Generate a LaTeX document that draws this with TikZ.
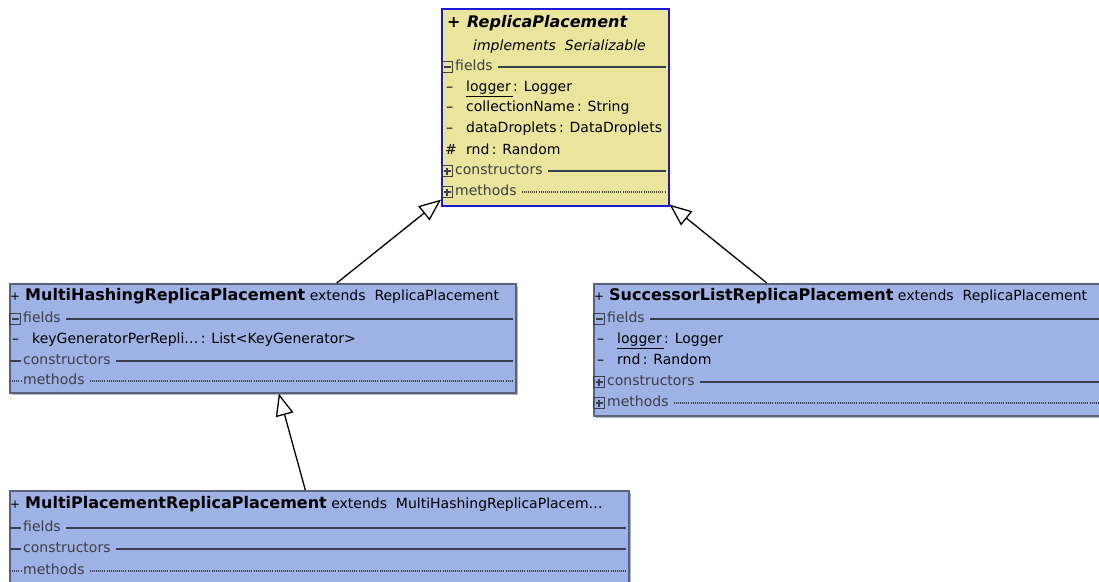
\documentclass[tikz,border=0pt]{standalone}
\usepackage{fontspec}
\setmainfont{DejaVu Sans}
\usetikzlibrary{arrows.meta, positioning, calc, shadows}

\definecolor{classyellow}{RGB}{233,229,157}
\definecolor{classblue}{RGB}{158,178,230}
\definecolor{frameblue}{RGB}{25,25,215}
\definecolor{frameslate}{RGB}{88,98,122}
\definecolor{secgray}{RGB}{62,62,70}
\definecolor{secline}{RGB}{58,62,78}

\newcommand{\membfont}{\fontsize{14}{16}\selectfont}
\newcommand{\clsfont}{\fontsize{16}{18}\selectfont\bfseries}
\newcommand{\vis}[1]{\makebox[15pt][l]{\fontsize{12}{14}\selectfont #1}}

% compartment row: icon, label, then a rule out to the right edge
\newcommand{\umlsec}[6]{%
  \node[seclabel] (#1) at ($(#2.north west)+(12,#3)$) {#5};
  \pic at ($(#1.west)+(-6,0)$) {#4};
  \draw[#6] ([xshift=3pt]#1.east) -- ($(#1.east -| #2.east)+(-4,0)$);
}

\begin{document}
\begin{tikzpicture}[x=1pt, y=-1pt,
    classbox/.style={rectangle, anchor=north west, inner sep=0pt},
    yellowclass/.style={classbox, fill=classyellow, draw=frameblue, line width=1.6pt},
    blueclass/.style={classbox, fill=classblue, draw=frameslate, line width=1.6pt,
      drop shadow={shadow xshift=2pt, shadow yshift=-2pt, fill=black!50, opacity=0.6}},
    member/.style={anchor=west, inner sep=0pt, text height=10pt, text depth=3pt, font=\membfont},
    seclabel/.style={member, inner sep=2pt, text=secgray},
    solidrule/.style={draw=secline, line width=1.2pt},
    dotrule/.style={draw=secline, line width=1.1pt, dash pattern=on 0.9pt off 1.2pt},
    generalize/.style={draw=black, line width=1.3pt, -{Triangle[open, length=22pt, width=18pt, fill=white]}},
    minusbox/.pic={\draw[secline, line width=1.1pt] (-5.5,-5.5) rectangle (5.5,5.5) (-3.5,0) -- (3.5,0);},
    plusbox/.pic={\draw[secline, line width=1.1pt] (-5.5,-5.5) rectangle (5.5,5.5) (-3.5,0) -- (3.5,0) (0,-3.5) -- (0,3.5);},
    stubline/.pic={\draw[solidrule] (-5,0) -- (6,0);},
    stubdots/.pic={\draw[dotrule] (-5,0) -- (6,0);}
  ]
  \clip (0,0) rectangle (1099,581);

  % class boxes
  \node[yellowclass, minimum width=227pt, minimum height=197pt] (rp) at (441,8) {};
  \node[blueclass, minimum width=506pt, minimum height=109pt] (mh) at (9,283) {};
  \node[blueclass, minimum width=512pt, minimum height=132pt] (sl) at (593,283) {};
  \node[blueclass, minimum width=619pt, minimum height=92pt] (mp) at (9,490) {};

  % ReplicaPlacement
  \node[member] (rphead) at ($(rp.north west)+(6,16)$)
    {\makebox[20pt][l]{\clsfont +}{\clsfont\itshape ReplicaPlacement}};
  \node[member] (rpimpl) at ($(rp.north west)+(32,39)$) {\itshape implements\ \ Serializable};
  \umlsec{rpfields}{rp}{59}{minusbox}{fields}{solidrule}
  \node[member] (rplogger) at ($(rp.north west)+(5,80)$) {\makebox[20pt][l]{–}\underline{logger\,}: Logger};
  \node[member] (rpcoll) at ($(rp.north west)+(5,100)$) {\makebox[20pt][l]{–}collectionName\,: String};
  \node[member] (rpdata) at ($(rp.north west)+(5,121)$) {\makebox[20pt][l]{–}dataDroplets\,: DataDroplets};
  \node[member] (rprnd) at ($(rp.north west)+(4,143)$) {\makebox[21pt][l]{\#}rnd\,: Random};
  \umlsec{rpctors}{rp}{163}{plusbox}{constructors}{solidrule}
  \umlsec{rpmeth}{rp}{184}{plusbox}{methods}{dotrule}

  % MultiHashingReplicaPlacement
  \node[member] (mhhead) at ($(mh.north west)+(1,14)$)
    {\vis{+}{\clsfont MultiHashingReplicaPlacement}\ extends\ \ ReplicaPlacement};
  \umlsec{mhfields}{mh}{36}{minusbox}{fields}{solidrule}
  \node[member] (mhkeys) at ($(mh.north west)+(3,57)$)
    {\makebox[20pt][l]{–}keyGeneratorPerRepli…\,: List<KeyGenerator>};
  \umlsec{mhctors}{mh}{78}{stubline}{constructors}{solidrule}
  \umlsec{mhmeth}{mh}{98}{stubdots}{methods}{dotrule}

  % SuccessorListReplicaPlacement
  \node[member] (slhead) at ($(sl.north west)+(1,14)$)
    {\vis{+}{\clsfont SuccessorListReplicaPlacement}\ extends\ \ ReplicaPlacement};
  \umlsec{slfields}{sl}{36}{minusbox}{fields}{solidrule}
  \node[member] (sllogger) at ($(sl.north west)+(4,57)$) {\makebox[20pt][l]{–}\underline{logger\,}: Logger};
  \node[member] (slrnd) at ($(sl.north west)+(4,78)$) {\makebox[20pt][l]{–}rnd\,: Random};
  \umlsec{slctors}{sl}{99}{plusbox}{constructors}{solidrule}
  \umlsec{slmeth}{sl}{120}{plusbox}{methods}{dotrule}

  % MultiPlacementReplicaPlacement
  \node[member] (mphead) at ($(mp.north west)+(1,15)$)
    {\vis{+}{\clsfont MultiPlacementReplicaPlacement}\ extends\ \ MultiHashingReplicaPlacem…};
  \umlsec{mpfields}{mp}{38}{stubline}{fields}{solidrule}
  \umlsec{mpctors}{mp}{59}{stubline}{constructors}{solidrule}
  \umlsec{mpmeth}{mp}{81}{stubdots}{methods}{dotrule}

  % generalizations
  \draw[generalize] ([xshift=74pt]mh.north) -- ([yshift=7pt]rp.south west);
  \draw[generalize] ([xshift=-83pt]sl.north) -- ([yshift=2pt]rp.south east);
  \draw[generalize] ([xshift=-14pt]mp.north) -- ([xshift=16pt]mh.south);
\end{tikzpicture}
\end{document}
